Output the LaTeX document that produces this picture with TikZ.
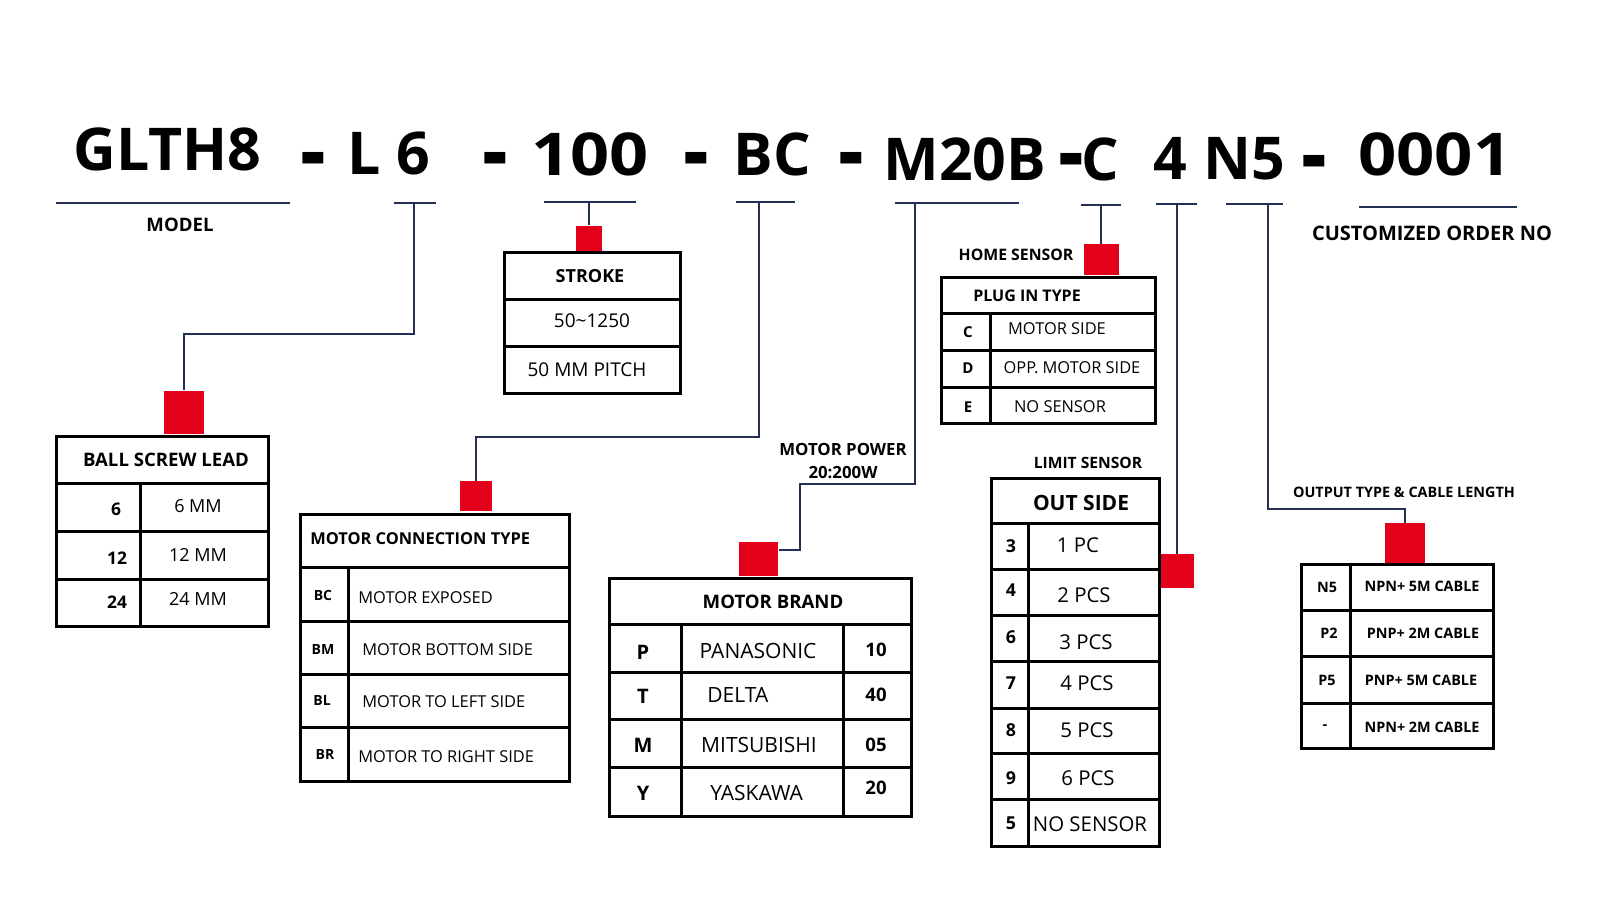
\documentclass[tikz,border=0pt]{standalone}
\usepackage{fontspec}
\setmainfont{Open Sans}
\definecolor{linknavy}{RGB}{35,47,85}
\definecolor{markred}{RGB}{226,0,26}

\begin{document}
\begin{tikzpicture}[x=.5pt,y=-.5pt,
  code/.style={inner sep=0pt,anchor=base west,
    font=\fontsize{29.5}{30}\selectfont\bfseries},
  boldtxt/.style={inner sep=0pt,font=\fontsize{#1}{#1}\selectfont\bfseries},
  plaintxt/.style={inner sep=0pt,font=\fontsize{#1}{#1}\selectfont},
  link/.style={draw=linknavy,line width=1.3pt},
  cell/.style={draw=black,line width=1.5pt},
  redbox/.style={fill=markred,inner sep=0pt}]
\fill[white] (0,0) rectangle (1600,900);
\useasboundingbox (0,0) rectangle (1600,900);
% order code
\node[code] (cModel) at (73,170) {GLTH8};
\node[code] (d1) at (300,183) {\scalebox{1.35}[1.6]{-}};
\node[code] (cLead) at (347,174) {L 6};
\node[code] (d2) at (482,183) {\scalebox{1.35}[1.6]{-}};
\node[code] (cStroke) at (531,175) {\scalebox{1.16}[1]{100}};
\node[code] (d3) at (683,183) {\scalebox{1.35}[1.6]{-}};
\node[code] (cConn) at (733,175) {BC};
\node[code] (d4) at (838,183) {\scalebox{1.35}[1.6]{-}};
\node[code] (cMotor) at (883,180) {M20B};
\node[code] (d5) at (1058,184) {\scalebox{1.35}[1.6]{-}};
\node[code] (cHome) at (1081,180) {C};
\node[code] (cLimit) at (1153,179) {4};
\node[code] (cOut) at (1203,179) {N5};
\node[code] (d6) at (1301,186) {\scalebox{1.35}[1.6]{-}};
\node[code] (cOrder) at (1358,175) {\scalebox{1.135}[1]{0001}};
% bars under the code
\draw[link] (56,203) -- (290,203);
\draw[link] (394,203) -- (436,203);
\draw[link] (544,202) -- (636,202);
\draw[link] (736,202) -- (795,202);
\draw[link] (895,203) -- (1019,203);
\draw[link] (1081,205) -- (1121,205);
\draw[link] (1156,204) -- (1197,204);
\draw[link] (1226,204) -- (1283,204);
\draw[link] (1359,207) -- (1517,207);
\coordinate (tLead) at (414,203);
\coordinate (tStroke) at (589,202);
\coordinate (tConn) at (759,202);
\coordinate (tMotor) at (915,203);
\coordinate (tHome) at (1101,205);
\coordinate (tLimit) at (1177,204);
\coordinate (tOut) at (1268,204);
\node[boldtxt=9.3] (lModel) at (180,225) {MODEL};
\node[boldtxt=10] (lOrder) at (1432,233) {CUSTOMIZED ORDER NO};
% red marks
\node[redbox,minimum width=20.3pt,minimum height=21.8pt] (sqLead) at (184,412.5) {};
\node[redbox,minimum width=13pt,minimum height=12.5pt] (sqStroke) at (589,238.2) {};
\node[redbox,minimum width=15.8pt,minimum height=14.9pt] (sqConn) at (476,496) {};
\node[redbox,minimum width=19.7pt,minimum height=17pt] (sqBrand) at (758.7,558.7) {};
\node[redbox,minimum width=17.5pt,minimum height=15.5pt] (sqHome) at (1101,259.5) {};
\node[redbox,minimum width=17.4pt,minimum height=16.8pt] (sqLimit) at (1177,570.8) {};
\node[redbox,minimum width=19.7pt,minimum height=20.4pt] (sqOut) at (1405,543.7) {};
% connectors
\draw[link] (tLead) -- ++(0,131) -| (sqLead.north);
\draw[link] (tStroke) -- (sqStroke.north);
\draw[link] (tConn) -- ++(0,235) -| (sqConn.north);
\draw[link] (tMotor) |- ++(-115,281) |- ([yshift=4.35pt]sqBrand.east);
\draw[link] (tHome) -- (sqHome.north);
\draw[link] (tLimit) -- (sqLimit.north);
\draw[link] (tOut) -- ++(0,305) -| (sqOut.north);
% ball screw lead
\draw[cell] (56,436) rectangle (268,626);
\draw[cell] (56,483) -- (268,483) (56,531) -- (268,531) (56,579) -- (268,579) (140,483) -- (140,626);
\node[boldtxt=9.3] (leadHead) at (166,460) {BALL SCREW LEAD};
\node[boldtxt=8.7] (lead6) at (116,509) {6};
\node[plaintxt=9] (lead6v) at (198,506) {6 MM};
\node[boldtxt=8.7] (lead12) at (117,558) {12};
\node[plaintxt=9] (lead12v) at (198,555) {12 MM};
\node[boldtxt=8.7] (lead24) at (117,602) {24};
\node[plaintxt=9] (lead24v) at (198,599) {24 MM};
% stroke
\draw[cell] (504,252) rectangle (680,393);
\draw[cell] (504,299) -- (680,299) (504,346) -- (680,346);
\node[boldtxt=9] (strokeHead) at (590,276) {STROKE};
\node[plaintxt=9.5] (strokeRange) at (592,321) {50\textasciitilde1250};
\node[plaintxt=9.5] (strokePitch) at (587,370) {50 MM PITCH};
% motor connection type
\draw[cell] (300,514) rectangle (569,781);
\draw[cell] (300,567) -- (569,567) (300,621) -- (569,621) (300,674) -- (569,674) (300,727) -- (569,727) (348,567) -- (348,781);
\node[boldtxt=8.2,anchor=west] (connHead) at (310,539) {MOTOR CONNECTION TYPE};
\node[boldtxt=7] (connBC) at (323,595) {BC};
\node[plaintxt=8.2,anchor=west] (connBCv) at (358,598) {MOTOR EXPOSED};
\node[boldtxt=7] (connBM) at (323,649) {BM};
\node[plaintxt=8.2,anchor=west] (connBMv) at (362,650) {MOTOR BOTTOM SIDE};
\node[boldtxt=7] (connBL) at (322,700) {BL};
\node[plaintxt=8.2,anchor=west] (connBLv) at (362,702) {MOTOR TO LEFT SIDE};
\node[boldtxt=7] (connBR) at (325,754) {BR};
\node[plaintxt=8.2,anchor=west] (connBRv) at (358,757) {MOTOR TO RIGHT SIDE};
% motor brand
\node[inner sep=0pt,align=center,font=\fontsize{8.4}{11.2}\selectfont\bfseries] (motorPower) at (843,461) {MOTOR POWER\\20:200W};
\draw[cell] (609,578) rectangle (911,816);
\draw[cell] (609,624) -- (911,624) (609,672) -- (911,672) (609,719) -- (911,719) (609,767) -- (911,767) (681,624) -- (681,816) (843,624) -- (843,816);
\node[boldtxt=9.3] (brandHead) at (773,602) {MOTOR BRAND};
\node[boldtxt=10] (brandP) at (643,652) {P};
\node[plaintxt=10.5] (brandPv) at (758,651) {PANASONIC};
\node[boldtxt=9.3] (brandPw) at (876,650) {10};
\node[boldtxt=10] (brandT) at (643,696) {T};
\node[plaintxt=10.5,anchor=west] (brandTv) at (707,695) {DELTA};
\node[boldtxt=9.3] (brandTw) at (876,695) {40};
\node[boldtxt=10] (brandM) at (643,745) {M};
\node[plaintxt=10.5] (brandMv) at (759,745) {MITSUBISHI};
\node[boldtxt=9.3] (brandMw) at (876,745) {05};
\node[boldtxt=10] (brandY) at (643,793) {Y};
\node[plaintxt=10.5,anchor=west] (brandYv) at (710,793) {YASKAWA};
\node[boldtxt=9.3] (brandYw) at (876,788) {20};
% home sensor
\node[boldtxt=7.9] (homeLabel) at (1016,255) {HOME SENSOR};
\draw[cell] (941,277) rectangle (1155,423);
\draw[cell] (941,313) -- (1155,313) (941,350) -- (1155,350) (941,387) -- (1155,387) (990,313) -- (990,423);
\node[boldtxt=8] (homeHead) at (1027,296) {PLUG IN TYPE};
\node[boldtxt=7.5] (homeC) at (968,332) {C};
\node[plaintxt=8.2] (homeCv) at (1057,329) {MOTOR SIDE};
\node[boldtxt=7.5] (homeD) at (968,368) {D};
\node[plaintxt=8.2] (homeDv) at (1072,368) {OPP. MOTOR SIDE};
\node[boldtxt=7.5] (homeE) at (968,407) {E};
\node[plaintxt=8.2] (homeEv) at (1060,407) {NO SENSOR};
% limit sensor
\node[boldtxt=7.8] (limitLabel) at (1088,463) {LIMIT SENSOR};
\draw[cell] (991,478) rectangle (1159,846);
\draw[cell] (991,523) -- (1159,523) (991,569) -- (1159,569) (991,615) -- (1159,615) (991,661) -- (1159,661) (991,708) -- (1159,708) (991,753) -- (1159,753) (991,799) -- (1159,799) (1028,523) -- (1028,846);
\node[boldtxt=10.5] (limitHead) at (1081,503) {OUT SIDE};
\node[boldtxt=8.9] (limit3) at (1011,546) {3};
\node[plaintxt=10.2] (limit3v) at (1078,545) {1 PC};
\node[boldtxt=8.9] (limit4) at (1011,590) {4};
\node[plaintxt=10.2] (limit4v) at (1084,595) {2 PCS};
\node[boldtxt=8.9] (limit6) at (1011,637) {6};
\node[plaintxt=10.2] (limit6v) at (1086,642) {3 PCS};
\node[boldtxt=8.9] (limit7) at (1011,683) {7};
\node[plaintxt=10.2] (limit7v) at (1087,683) {4 PCS};
\node[boldtxt=8.9] (limit8) at (1011,730) {8};
\node[plaintxt=10.2] (limit8v) at (1087,730) {5 PCS};
\node[boldtxt=8.9] (limit9) at (1011,778) {9};
\node[plaintxt=10.2] (limit9v) at (1088,778) {6 PCS};
\node[boldtxt=8.9] (limit5) at (1011,823) {5};
\node[plaintxt=10.2] (limit5v) at (1090,824) {NO SENSOR};
% output type
\node[boldtxt=7.2] (outLabel) at (1404,492) {OUTPUT TYPE \& CABLE LENGTH};
\draw[cell] (1301,564) rectangle (1493,748);
\draw[cell] (1301,610) -- (1493,610) (1301,656) -- (1493,656) (1301,703) -- (1493,703) (1350,564) -- (1350,748);
\node[boldtxt=7.2] (outN5) at (1327,587) {N5};
\node[boldtxt=7.2] (outN5v) at (1422,586) {NPN+ 5M CABLE};
\node[boldtxt=7.2] (outP2) at (1329,633) {P2};
\node[boldtxt=7.2] (outP2v) at (1423,633) {PNP+ 2M CABLE};
\node[boldtxt=7.2] (outP5) at (1327,680) {P5};
\node[boldtxt=7.2] (outP5v) at (1421,680) {PNP+ 5M CABLE};
\node[boldtxt=7.2] (outNone) at (1325,727) {-};
\node[boldtxt=7.2] (outNonev) at (1422,727) {NPN+ 2M CABLE};
\end{tikzpicture}
\end{document}
